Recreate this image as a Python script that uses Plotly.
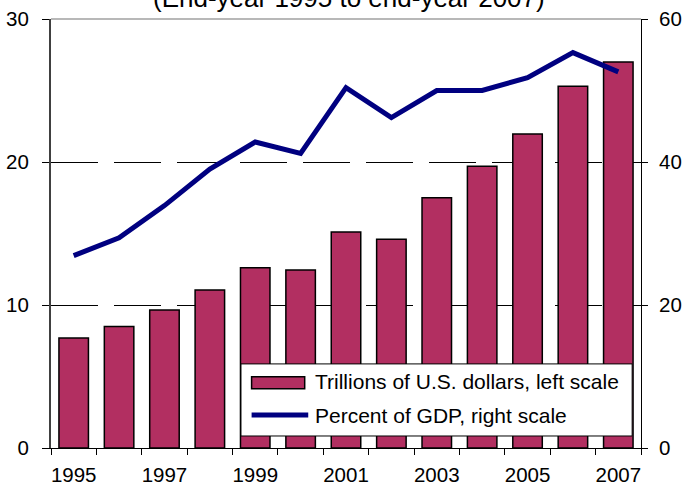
import plotly.graph_objects as go

years = [1995, 1996, 1997, 1998, 1999, 2000, 2001, 2002, 2003, 2004, 2005, 2006, 2007]
trillions_usd = [7.7, 8.5, 9.65, 11.05, 12.6, 12.45, 15.1, 14.6, 17.5, 19.7, 21.95, 25.3, 27.0]
pct_gdp = [26.9, 29.4, 33.9, 39.0, 42.8, 41.2, 50.4, 46.2, 50.0, 50.0, 51.8, 55.3, 52.6]
left_ticks = [0, 10, 20, 30]
right_ticks = [0, 20, 40, 60]
year_labels = [1995, 1997, 1999, 2001, 2003, 2005, 2007]
boundaries = [1994.5 + i for i in range(14)]
bar_name = "Trillions of U.S. dollars, left scale"
line_name = "Percent of GDP, right scale"
title_text = "(End-year 1995 to end-year 2007)"

FONT = "Liberation Sans, Arial, sans-serif"
BAR_COLOR = "#B22F61"
LINE_COLOR = "#000080"

fig = go.Figure()
fig.add_trace(go.Bar(
    x=years, y=trillions_usd, name=bar_name,
    marker=dict(color=BAR_COLOR, line=dict(color="black", width=1.5)),
    width=0.65, yaxis="y", showlegend=False,
))
fig.add_trace(go.Scatter(
    x=years, y=pct_gdp, name=line_name, mode="lines",
    line=dict(color=LINE_COLOR, width=5), yaxis="y2", showlegend=False,
))

# legend box drawn in paper coordinates (bottom-right of plot)
legend_shapes = [
    dict(type="rect", xref="paper", yref="paper", x0=0.322, x1=0.985, y0=0.028, y1=0.196,
         fillcolor="white", line=dict(color="black", width=1), layer="above"),
    dict(type="rect", xref="paper", yref="paper", x0=0.340, x1=0.430, y0=0.138, y1=0.166,
         fillcolor=BAR_COLOR, line=dict(color="black", width=1.5), layer="above"),
    dict(type="line", xref="paper", yref="paper", x0=0.340, x1=0.436, y0=0.077, y1=0.077,
         line=dict(color=LINE_COLOR, width=5), layer="above"),
]
legend_texts = [
    dict(text=bar_name, xref="paper", yref="paper", x=0.444, y=0.155,
         xanchor="left", yanchor="middle", showarrow=False, font=dict(size=21, family=FONT)),
    dict(text=line_name, xref="paper", yref="paper", x=0.444, y=0.075,
         xanchor="left", yanchor="middle", showarrow=False, font=dict(size=21, family=FONT)),
]

fig.update_layout(
    template="none",
    width=682, height=487,
    margin=dict(l=51, r=41, t=18.5, b=39.3, autoexpand=False),
    paper_bgcolor="white", plot_bgcolor="white",
    font=dict(family=FONT, color="black", size=20.5),
    showlegend=False,
    bargap=0.35,
    xaxis=dict(
        range=[1994.5, 2007.5], tickmode="array", tickvals=year_labels,
        ticks="", showgrid=False, zeroline=False, automargin=False,
        showline=True, linecolor="black", linewidth=1,
        tickfont=dict(size=20.5), ticklabelstandoff=8,
        minor=dict(tickmode="array", tickvals=boundaries, ticks="outside",
                   ticklen=6, tickcolor="black", showgrid=False),
    ),
    yaxis=dict(
        range=[0, 30], tickmode="array", tickvals=left_ticks,
        ticks="outside", ticklen=7, tickcolor="black", automargin=False,
        showline=True, linecolor="#404040", linewidth=2,
        showgrid=True, gridcolor="black", gridwidth=1, griddash="47px,16px",
        zeroline=False, tickfont=dict(size=20.5), ticklabelstandoff=9,
    ),
    yaxis2=dict(
        range=[0, 60], tickmode="array", tickvals=right_ticks,
        overlaying="y", side="right", automargin=False,
        ticks="outside", ticklen=6, tickcolor="black",
        showline=True, linecolor="black", linewidth=1,
        showgrid=False, zeroline=False, tickfont=dict(size=20.5), ticklabelstandoff=7,
    ),
    shapes=[dict(type="line", xref="paper", yref="paper", x0=0, x1=1, y0=1, y1=1,
                 line=dict(color="#A0A0A0", width=1.5), layer="below")] + legend_shapes,
    annotations=[dict(text=title_text, xref="paper", yref="paper",
                      x=0.505, y=1.048, xanchor="center", yanchor="middle",
                      showarrow=False, font=dict(size=26, family=FONT))] + legend_texts,
)

fig.write_html(
    "out.html",
    config={"displayModeBar": False},
    post_script="document.body.style.margin='0';document.body.style.overflow='hidden';",
)
